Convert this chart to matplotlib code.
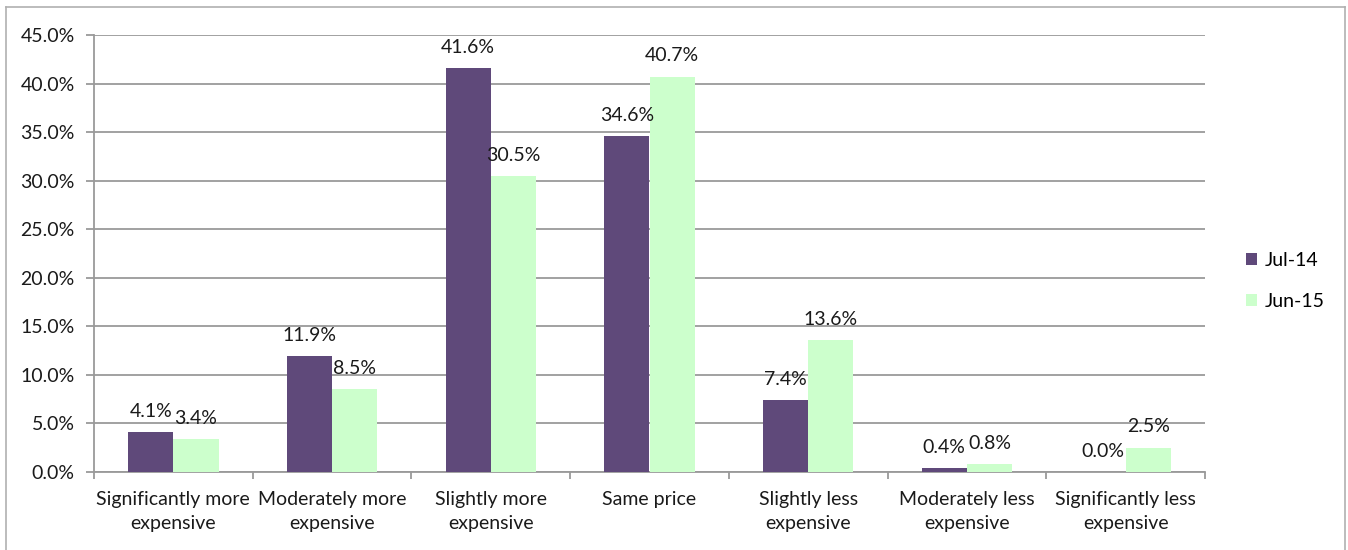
import matplotlib
matplotlib.use("Agg")
import matplotlib.pyplot as plt
from matplotlib.lines import Line2D
import numpy as np

categories = [
    "Significantly more\nexpensive",
    "Moderately more\nexpensive",
    "Slightly more\nexpensive",
    "Same price",
    "Slightly less\nexpensive",
    "Moderately less\nexpensive",
    "Significantly less\nexpensive",
]
series_names = ["Jul-14", "Jun-15"]
jul14 = [4.1, 11.9, 41.6, 34.6, 7.4, 0.4, 0.0]
jun15 = [3.4, 8.5, 30.5, 40.7, 13.6, 0.8, 2.5]
yticks = [0, 5, 10, 15, 20, 25, 30, 35, 40, 45]

colors = ["#5F497A", "#CCFFCC"]
grid_col = "#9a9a9a"
text_col = "#1a1a1a"

plt.rcParams["font.family"] = ["Lato", "DejaVu Sans"]
plt.rcParams["font.size"] = 14

W, H = 1348, 550
fig = plt.figure(figsize=(W / 100, H / 100), dpi=100)
ax = fig.add_axes([94 / W, 1 - 472 / H, (1205 - 94) / W, (472 - 35) / H])

x = np.arange(len(categories))
bw = 0.285
series = [jul14, jun15]
for i, (vals, name, c) in enumerate(zip(series, series_names, colors)):
    pos = x + (i - 0.5) * bw
    ax.bar(pos, vals, width=bw, color=c, label=name, zorder=3)
    for px, v in zip(pos, vals):
        ax.annotate(f"{v:.1f}%", (px, v), xytext=(0, 11), textcoords="offset points",
                    ha="center", va="baseline", color=text_col, zorder=4)

ax.set_xlim(-0.5, len(categories) - 0.5)
ax.set_ylim(0, 45)
ax.set_yticks(yticks)
ax.set_yticklabels([f"{t:.1f}%" for t in yticks], color=text_col)
ax.yaxis.grid(True, color=grid_col, linewidth=1.3, zorder=0)

ax.set_xticks(np.arange(-0.5, len(categories), 1.0))
ax.set_xticklabels([])
ax.set_xticks(x, minor=True)
ax.set_xticklabels(categories, minor=True, color=text_col, linespacing=1.5)
ax.tick_params(axis="x", which="major", length=5, width=1.3, color=grid_col, direction="out")
ax.tick_params(axis="x", which="minor", length=0, pad=14)
ax.tick_params(axis="y", length=6, width=1.3, color=grid_col, pad=8)

for s in ["top", "right"]:
    ax.spines[s].set_visible(False)
for s in ["left", "bottom"]:
    ax.spines[s].set_color(grid_col)
    ax.spines[s].set_linewidth(1.3)

fig.legend(loc="center left", bbox_to_anchor=(1228 / W, 1 - 281 / H), frameon=False,
           handlelength=0.6, handleheight=0.6, handletextpad=0.4, labelspacing=1.25,
           fontsize=14)

# outer frame
frame_col = "#b0b0b0"
fig.add_artist(Line2D([6 / W, 6 / W], [0, 1 - 7 / H], transform=fig.transFigure, color=frame_col, lw=1.2))
fig.add_artist(Line2D([6 / W, 1345 / W], [1 - 7 / H, 1 - 7 / H], transform=fig.transFigure, color=frame_col, lw=1.2))
fig.add_artist(Line2D([1345 / W, 1345 / W], [0, 1 - 7 / H], transform=fig.transFigure, color=frame_col, lw=1.2))

fig.savefig("out.png", dpi=100)
